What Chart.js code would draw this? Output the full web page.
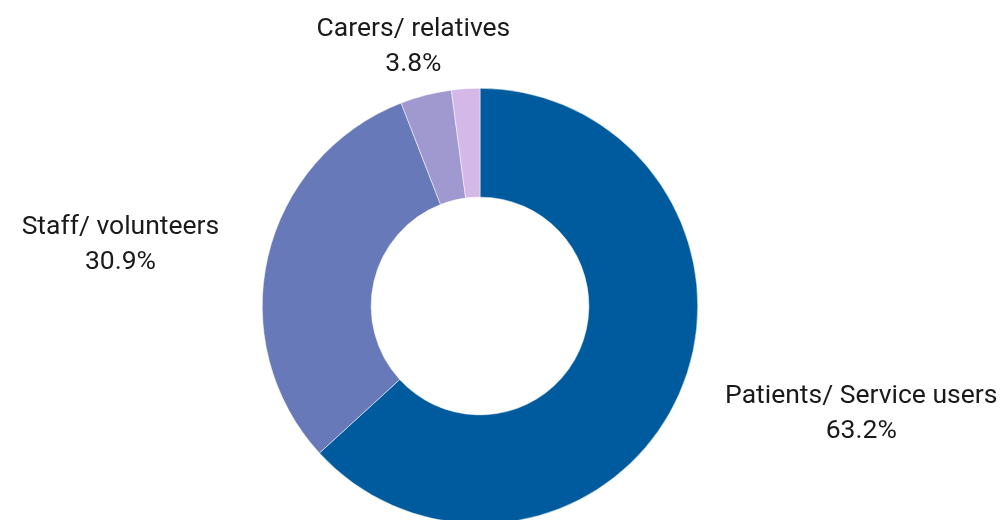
<!DOCTYPE html>
<html>
<head>
<meta charset="utf-8">
<script src="https://cdn.jsdelivr.net/npm/chart.js@4.4.1/dist/chart.umd.min.js"></script>
<style>
  html, body { margin: 0; padding: 0; background: #fff; overflow: hidden; }
  #wrap { position: relative; width: 1004px; height: 560px; }
</style>
</head>
<body>
<div id="wrap"><canvas id="donut"></canvas></div>
<script>
const categories = ["Patients/ Service users", "Staff/ volunteers", "Carers/ relatives", ""];
const shares = [63.2, 30.9, 3.8, 2.1];
const sliceColors = ["#005b9e", "#6779b8", "#a099d0", "#d3b8e8"];

// outside labels: name on one line, percent under it
const outsideLabels = {
    id: "outsideLabels",
    afterDraw(chart) {
        const ctx = chart.ctx;
        const meta = chart.getDatasetMeta(0);
        ctx.save();
        ctx.font = "26.5px Roboto";
        ctx.fillStyle = "#1a1a1a";
        ctx.textBaseline = "middle";
        ctx.textAlign = "center";
        meta.data.forEach((arc, i) => {
            if (!categories[i]) return;
            const mid = (arc.startAngle + arc.endAngle) / 2;
            const r = arc.outerRadius + 50;
            const px = arc.x + Math.cos(mid) * r;
            const py = arc.y + Math.sin(mid) * r;
            const lines = [categories[i], shares[i].toFixed(1) + "%"];
            const w = Math.max(...lines.map(t => ctx.measureText(t).width));
            let cx = px;
            if (Math.cos(mid) > 0.5) cx = px + w / 2;
            else if (Math.cos(mid) < -0.5) cx = px - w / 2;
            const lh = 35;
            lines.forEach((t, j) => {
                ctx.fillText(t, cx, py + (j - (lines.length - 1) / 2) * lh);
            });
        });
        ctx.restore();
    }
};

new Chart(document.getElementById("donut"), {
    type: "doughnut",
    data: {
        labels: categories,
        datasets: [{
            data: shares,
            backgroundColor: sliceColors,
            borderColor: "#ffffff",
            borderWidth: 0.5
        }]
    },
    options: {
        responsive: true,
        maintainAspectRatio: false,
        animation: false,
        cutout: "50%",
        layout: { padding: { left: 262, right: 306, top: 88, bottom: 36 } },
        plugins: {
            legend: { display: false },
            tooltip: { enabled: false }
        }
    },
    plugins: [outsideLabels]
});
</script>
</body>
</html>
